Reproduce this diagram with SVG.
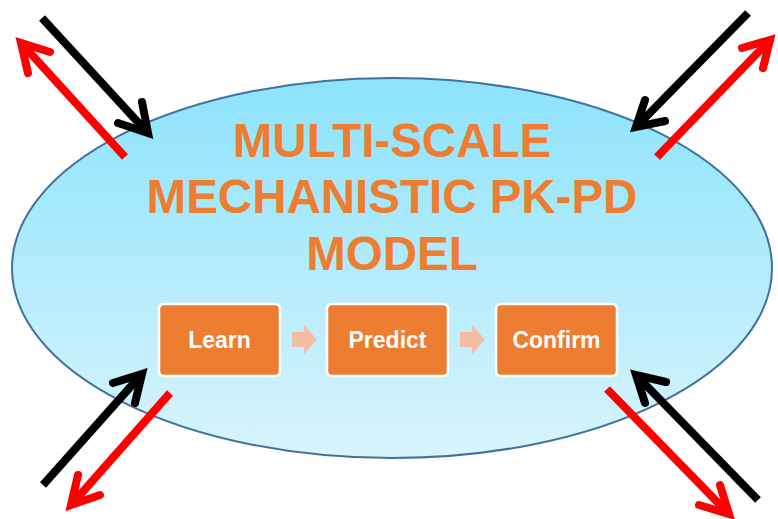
<svg xmlns="http://www.w3.org/2000/svg" width="778" height="519" viewBox="0 0 778 519">
<defs>
<linearGradient id="bg" x1="0" y1="0" x2="0" y2="1">
<stop offset="0" stop-color="#8ce3fc"/>
<stop offset="1" stop-color="#d9f4fc"/>
</linearGradient>
<style>
.title{font-family:"Liberation Sans",Arial,sans-serif;font-weight:bold;font-size:47.5px;fill:#ed7d31;text-anchor:middle}
.box rect{fill:#ed7d31;stroke:#ffffff;stroke-width:2.5}
.box text{font-family:"Liberation Sans",Arial,sans-serif;font-weight:bold;font-size:23px;fill:#ffffff;text-anchor:middle}
.step{fill:#f4bba5}
.shaft{fill:none;stroke-width:8;stroke-linecap:butt}
.head{fill:none;stroke-width:8;stroke-linecap:round;stroke-linejoin:miter;stroke-miterlimit:10}
.blk{stroke:#000000}
.red{stroke:#ff0000}
</style>
</defs>
<rect width="778" height="519" fill="#ffffff"/>
<g id="model">
<ellipse cx="392" cy="268" rx="380" ry="190" fill="url(#bg)" stroke="#41719c" stroke-width="2"/>
<text class="title" x="392" y="157">MULTI-SCALE</text>
<text class="title" x="392" y="213">MECHANISTIC PK-PD</text>
<text class="title" x="392" y="270">MODEL</text>
</g>
<g id="learn" class="box">
<rect x="159" y="304" width="121" height="72" rx="5"/>
<text x="219.5" y="348">Learn</text>
</g>
<g id="predict" class="box">
<rect x="327" y="304" width="121" height="72" rx="5"/>
<text x="387.5" y="348">Predict</text>
</g>
<g id="confirm" class="box">
<rect x="496" y="304" width="121" height="72" rx="5"/>
<text x="556.5" y="348">Confirm</text>
</g>
<g id="connectors">
<polygon class="step" points="292,332 304,332 304,325 317,339.5 304,354 304,347 292,347"/>
<polygon class="step" points="460,332 472,332 472,325 485,339.5 472,354 472,347 460,347"/>
<!-- top-left -->
<path class="shaft blk" d="M42,18 L147,132"/>
<path class="head blk" d="M118,123 L148,133 L142,102"/>
<path class="shaft red" d="M125,157 L22,44"/>
<path class="head red" d="M28,73 L21,43 L50,52"/>
<!-- top-right -->
<path class="shaft blk" d="M748,13 L637,126"/>
<path class="head blk" d="M645,100 L636,127 L665,121"/>
<path class="shaft red" d="M657,157 L769,41"/>
<path class="head red" d="M742,48 L770,40 L763,68"/>
<!-- bottom-left -->
<path class="shaft blk" d="M43,485 L141,375"/>
<path class="head blk" d="M113,383 L142,374 L135,403"/>
<path class="shaft red" d="M170,393 L72,504"/>
<path class="head red" d="M78,475 L71,505 L100,495"/>
<!-- bottom-right -->
<path class="shaft blk" d="M758,500 L637,376"/>
<path class="head blk" d="M645,403 L636,375 L666,382"/>
<path class="shaft red" d="M607,389 L728,513"/>
<path class="head red" d="M720,485 L729,514 L699,505"/>
</g>
</svg>
